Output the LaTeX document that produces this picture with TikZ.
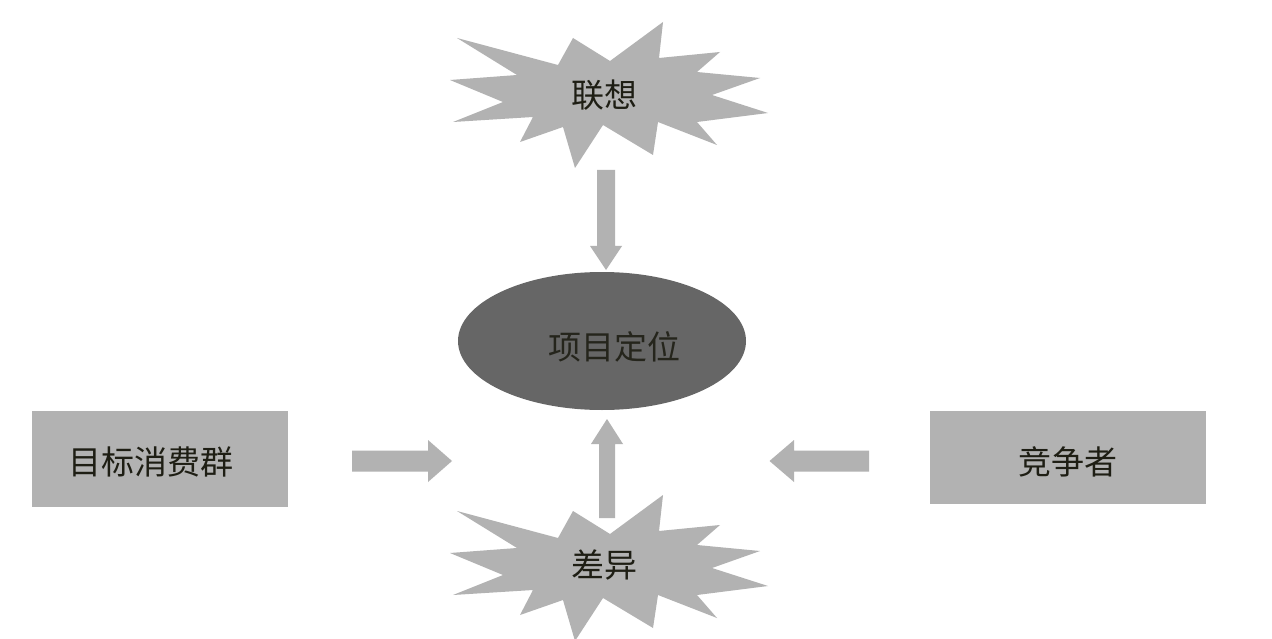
\documentclass[tikz,border=0pt]{standalone}
\usepackage{fontspec}
\newfontfamily\cjk{Noto Sans CJK SC}
\usetikzlibrary{shapes.geometric}
\definecolor{lgray}{HTML}{B2B2B2}
\definecolor{dgray}{HTML}{666666}
\definecolor{txt}{HTML}{1E1E14}
\tikzset{
  lbl/.style={text=txt, font=\cjk\fontsize{33}{33}\selectfont, inner sep=0pt},
  box/.style={fill=lgray, draw=none},
  blockarrow/.style={fill=lgray, draw=none},
  burst/.pic={
    \fill[lgray] (-147,-57) -- (-46,-30) -- (-31,-57) -- (6,-34) -- (59,-73) -- (55,-37)
      -- (116,-43) -- (93,-23) -- (156,-17) -- (108,0) -- (164,18) -- (93,27)
      -- (113,50) -- (54,27) -- (49,60) -- (-1,30) -- (-29,73) -- (-41,32)
      -- (-84,47) -- (-71,22) -- (-151,27) -- (-101,7) -- (-154,-15) -- (-87,-20) -- cycle;
  }
}
\begin{document}
\begin{tikzpicture}[x=1pt,y=-1pt]
\useasboundingbox (0,0) rectangle (1272,639);
\clip (0,0) rectangle (1272,639);
\fill[white] (0,0) rectangle (1272,639);

% starbursts
\pic at (604,95) {burst};
\pic at (604,568) {burst};
\node[lbl] (assoc) at (604,95) {联想};
\node[lbl] (diff) at (604,565) {差异};

% ellipse
\node[ellipse, fill=dgray, minimum width=288pt, minimum height=138pt, inner sep=0pt] (pos) at (602,341) {};
\node[lbl, text=txt!90!dgray] (poslbl) at (614,347) {项目定位};

% boxes
\fill[box] (32,411) rectangle (288,507);
\node[lbl] (target) at (151,462) {目标消费群};
\fill[box] (930,411) rectangle (1206,504);
\node[lbl] (comp) at (1068,462) {竞争者};

% block arrows
\fill[blockarrow] (597,170) -- (615,170) -- (615,246) -- (622,246) -- (606,270) -- (590,246) -- (597,246) -- cycle;
\fill[blockarrow] (599,518) -- (615,518) -- (615,444) -- (623,444) -- (607,419) -- (591,444) -- (599,444) -- cycle;
\fill[blockarrow] (352,450.5) -- (428,450.5) -- (428,440) -- (452,461) -- (428,482) -- (428,471.5) -- (352,471.5) -- cycle;
\fill[blockarrow] (869,450.5) -- (794,450.5) -- (794,440) -- (769.5,461) -- (794,482) -- (794,471.5) -- (869,471.5) -- cycle;
\end{tikzpicture}
\end{document}
